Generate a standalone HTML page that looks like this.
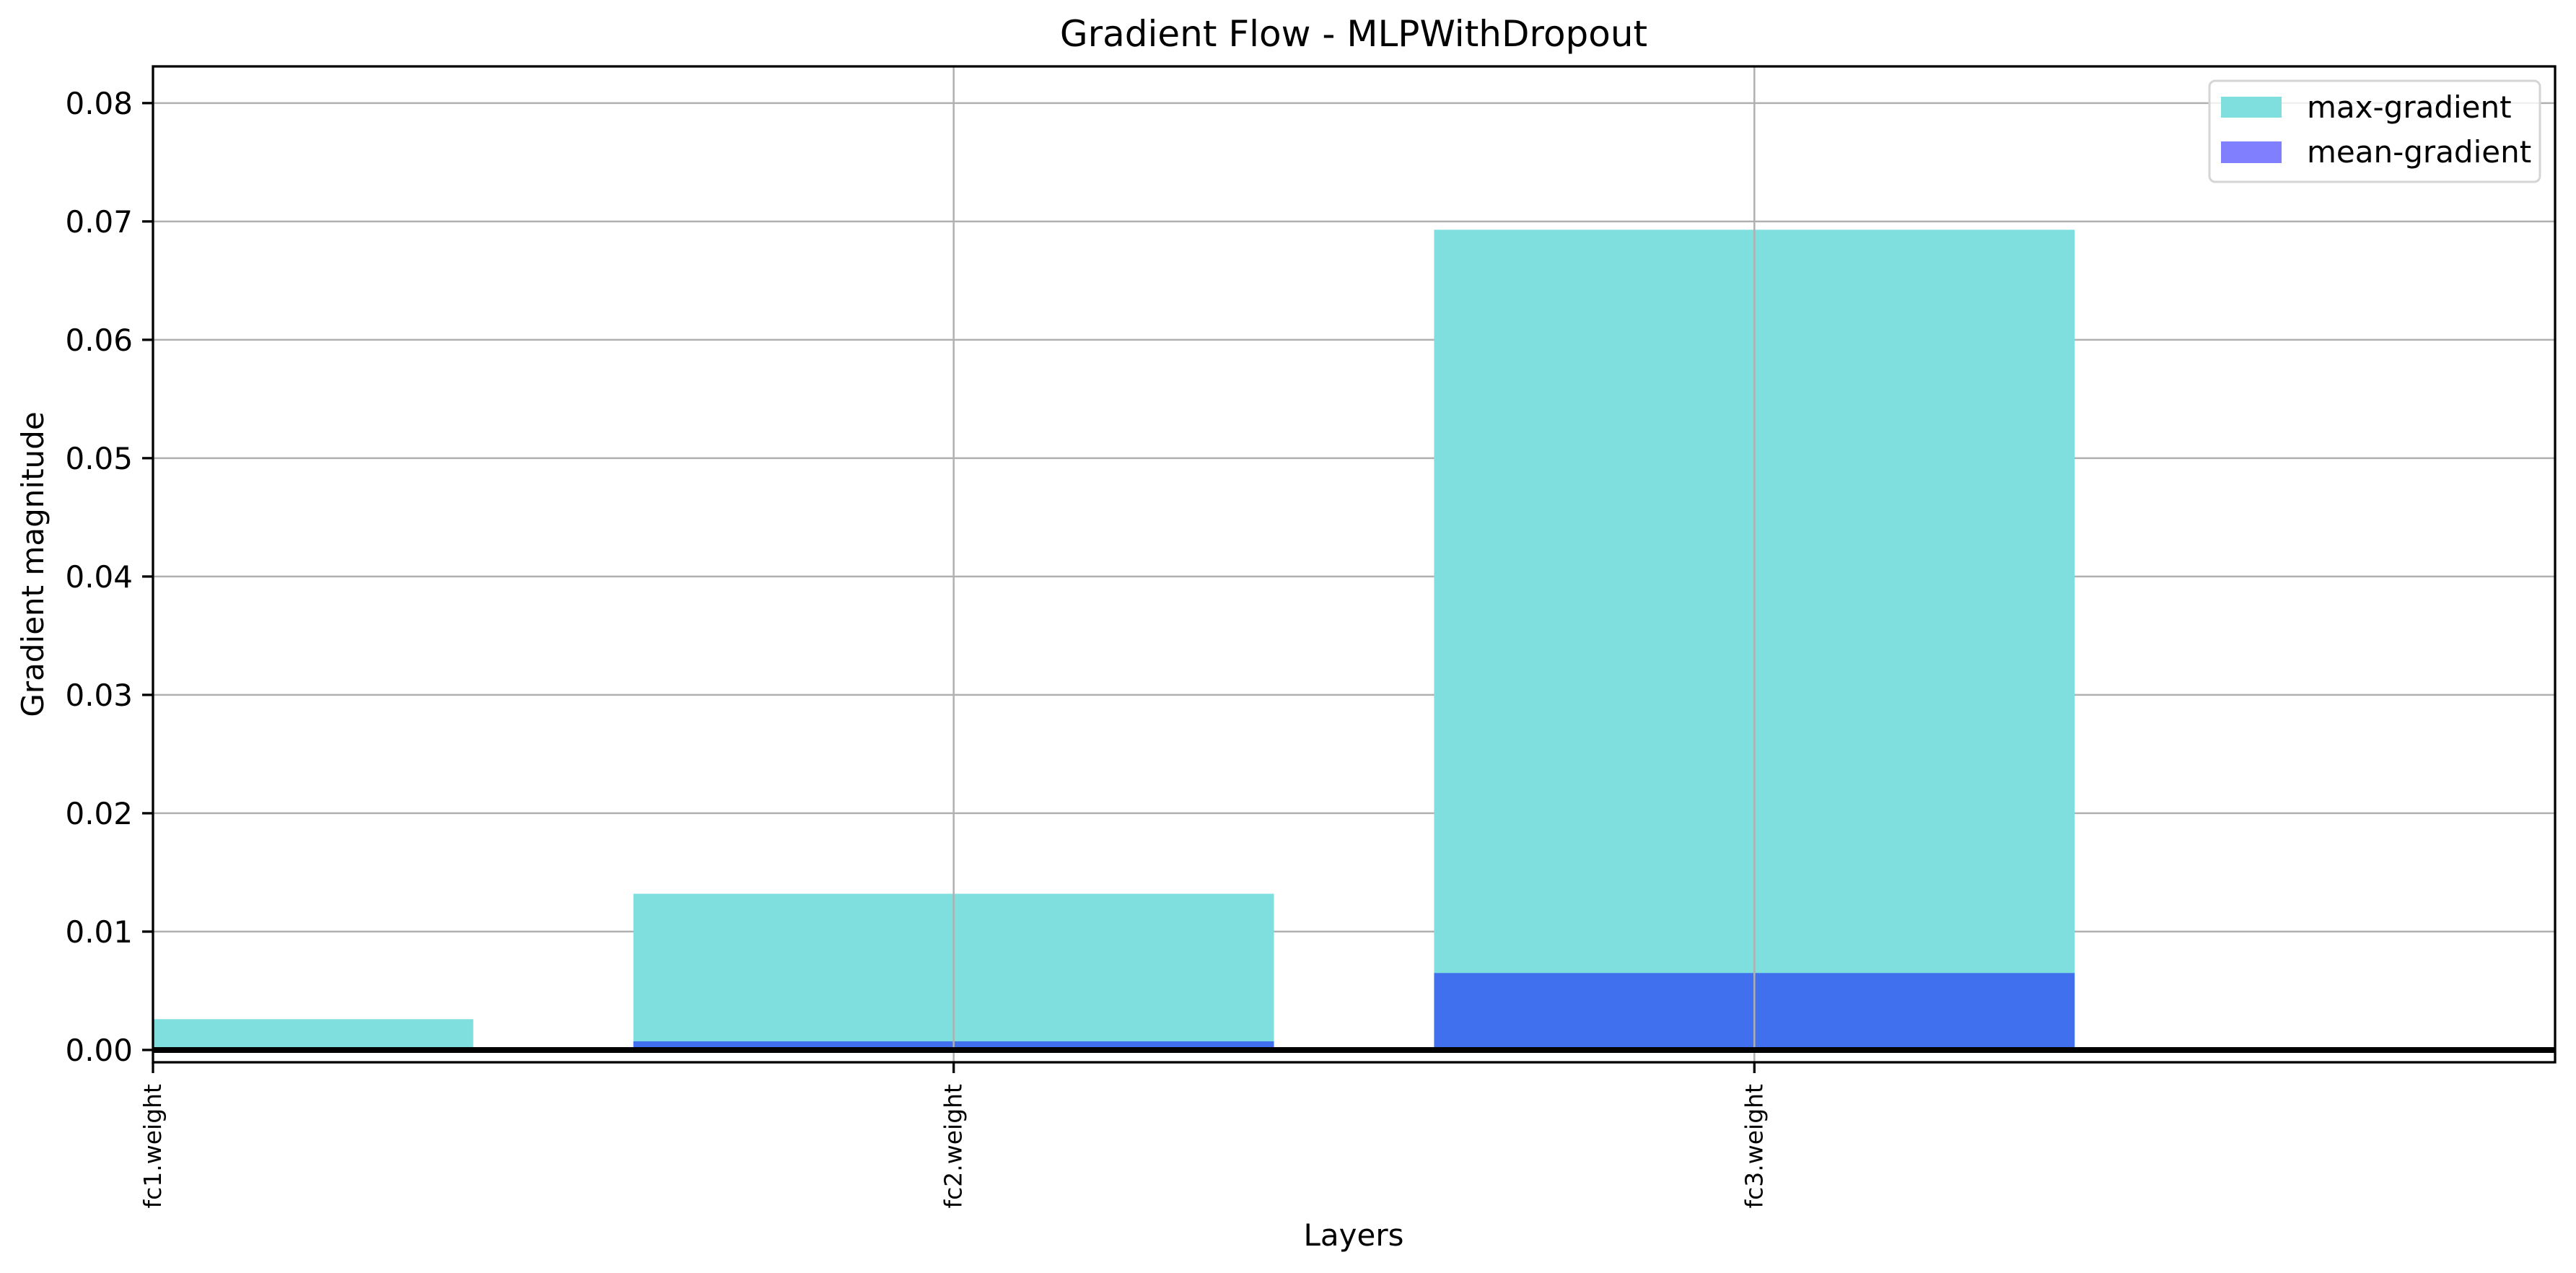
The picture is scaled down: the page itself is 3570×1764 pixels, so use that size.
<!DOCTYPE html>
<html><head><meta charset="utf-8"><style>
html,body{margin:0;padding:0;background:#fff;}
svg{display:block;font-family:"DejaVu Sans","Liberation Sans",sans-serif;}
</style></head><body>
<svg id="chart" width="3570" height="1764" viewBox="0 0 3570 1764" xmlns="http://www.w3.org/2000/svg">
<rect width="3570" height="1764" fill="#fff"/>
<g id="grid"></g>
<g id="bars"></g>
<g id="axes"></g>
<text x="1876" y="64" font-size="50" text-anchor="middle">Gradient Flow - MLPWithDropout</text>
<text x="1876" y="1726" font-size="42" text-anchor="middle">Layers</text>
<text transform="translate(60,782) rotate(-90)" font-size="42" text-anchor="middle">Gradient magnitude</text>
<g>
<rect x="3062" y="112" width="458" height="140" rx="8" fill="#fff" fill-opacity="0.8" stroke="#d5d5d5" stroke-width="3"/>
<rect x="3078" y="134" width="84" height="29" fill="#7fdfdf"/>
<text x="3197" y="163" font-size="42">max-gradient</text>
<rect x="3078" y="196" width="84" height="30" fill="#8080ff"/>
<text x="3197" y="225" font-size="42">mean-gradient</text>
</g>
</svg>
<script>
const categories = ["fc1.weight", "fc2.weight", "fc3.weight"];
const maxGrad = [0.0026, 0.0132, 0.0693];
const meanGrad = [0.00005, 0.00073, 0.0065];
const yTicks = [0, 0.01, 0.02, 0.03, 0.04, 0.05, 0.06, 0.07, 0.08];
const yTickLabels = ["0.00","0.01","0.02","0.03","0.04","0.05","0.06","0.07","0.08"];

const NS = "http://www.w3.org/2000/svg";
const L = 212, R = 3541, T = 92, B = 1472;
const xMin = 0, xMax = 3, yMin = -0.00104, yMax = 0.0831;
function xs(v){ return L + (v - xMin) / (xMax - xMin) * (R - L); }
function ys(v){ return B - (v - yMin) / (yMax - yMin) * (B - T); }
function mk(tag, attrs, parent){ const e = document.createElementNS(NS, tag); for (const k in attrs) e.setAttribute(k, attrs[k]); parent.appendChild(e); return e; }

const grid = document.getElementById('grid');
const bars = document.getElementById('bars');
const axes = document.getElementById('axes');

yTicks.forEach((t, i) => {
  const y = ys(t);
  const g = mk('line', {x1: L, x2: R, y1: y, y2: y, stroke: '#b0b0b0', 'stroke-width': 2.5}, grid);
  
  
  const tk = mk('line', {x1: L - 15, x2: L, y1: y, y2: y, stroke: '#000', 'stroke-width': 3.3}, axes);
  
  
  const lb = mk('text', {x: L - 28, y: y + 15, 'font-size': 42, 'text-anchor': 'end'}, axes);
  lb.textContent = yTickLabels[i];
  
  
});

const clip = mk('clipPath', {id: 'plotclip'}, bars);
mk('rect', {x: L, y: T, width: R - L, height: B - T}, clip);
const bg = mk('g', {'clip-path': 'url(#plotclip)'}, bars);

categories.forEach((c, i) => {
  const x0 = xs(i - 0.4), x1 = xs(i + 0.4);
  const mb = mk('rect', {x: x0, y: ys(maxGrad[i]), width: x1 - x0, height: ys(0) - ys(maxGrad[i]), fill: '#7fdfdf'}, bg);
  
  
  const nb = mk('rect', {x: x0, y: ys(meanGrad[i]), width: x1 - x0, height: ys(0) - ys(meanGrad[i]), fill: '#4070ee'}, bg);
  
  
});

categories.forEach((c, i) => {
  const x = xs(i);
  const g = mk('line', {x1: x, x2: x, y1: T, y2: B, stroke: '#b0b0b0', 'stroke-width': 2.5}, bars);
  
  
  const tk = mk('line', {x1: x, x2: x, y1: B, y2: B + 15, stroke: '#000', 'stroke-width': 3.3}, axes);
  
  
  const lb = mk('text', {transform: 'translate(' + (x + 11) + ',' + (B + 30) + ') rotate(-90)', 'font-size': 33, 'text-anchor': 'end'}, axes);
  lb.textContent = c;
  
  
});

const zl = mk('line', {x1: L, x2: R, y1: ys(0), y2: ys(0), stroke: '#000', 'stroke-width': 8}, bars);



const fr = mk('rect', {x: L, y: T, width: R - L, height: B - T, fill: 'none', stroke: '#000', 'stroke-width': 3.3}, axes);


</script>
</body></html>
